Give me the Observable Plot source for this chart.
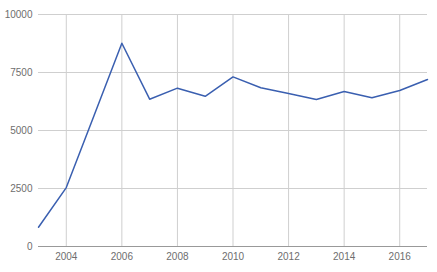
<!DOCTYPE html>
<html>
<head>
<meta charset="utf-8">
<script src="https://cdn.jsdelivr.net/npm/d3@7"></script>
<script src="https://cdn.jsdelivr.net/npm/@observablehq/plot@0.6"></script>
<style>
html,body{margin:0;padding:0;background:#fff;}
svg{display:block;}
</style>
</head>
<body>
<div id="chart"></div>
<script>
const years = [2003,2004,2005,2006,2007,2008,2009,2010,2011,2012,2013,2014,2015,2016,2017];
const values = [830,2540,5650,8760,6350,6825,6475,7310,6840,6595,6335,6680,6410,6725,7200];
const xTicks = [2004,2006,2008,2010,2012,2014,2016];
const yTicks = [0,2500,5000,7500,10000];

const data = years.map((y,i)=>({year:y, value:values[i]}));

const chart = Plot.plot({
  width: 437,
  height: 272,
  marginLeft: 38,
  marginRight: 10,
  marginTop: 14,
  marginBottom: 26,
  style: {fontFamily: "Arial, 'Liberation Sans', sans-serif", fontSize: "10px", color: "#6e6e6e", background: "#fff"},
  x: {domain: [2003, 2017], ticks: xTicks, tickFormat: d => String(d), tickSize: 0, tickPadding: 6, label: null},
  y: {domain: [0, 10000], ticks: yTicks, tickFormat: d => String(d), tickSize: 0, tickPadding: 6, label: null},
  marks: [
    Plot.ruleX(xTicks, {stroke: "#cfcfcf", strokeWidth: 1}),
    Plot.ruleY(yTicks.filter(d=>d>0), {stroke: "#cfcfcf", strokeWidth: 1}),
    Plot.ruleY([0], {stroke: "#999", strokeWidth: 1}),
    Plot.line(data, {x: "year", y: "value", stroke: "#3a5fb0", strokeWidth: 1.5})
  ]
});
document.getElementById("chart").appendChild(chart);
</script>
</body>
</html>
